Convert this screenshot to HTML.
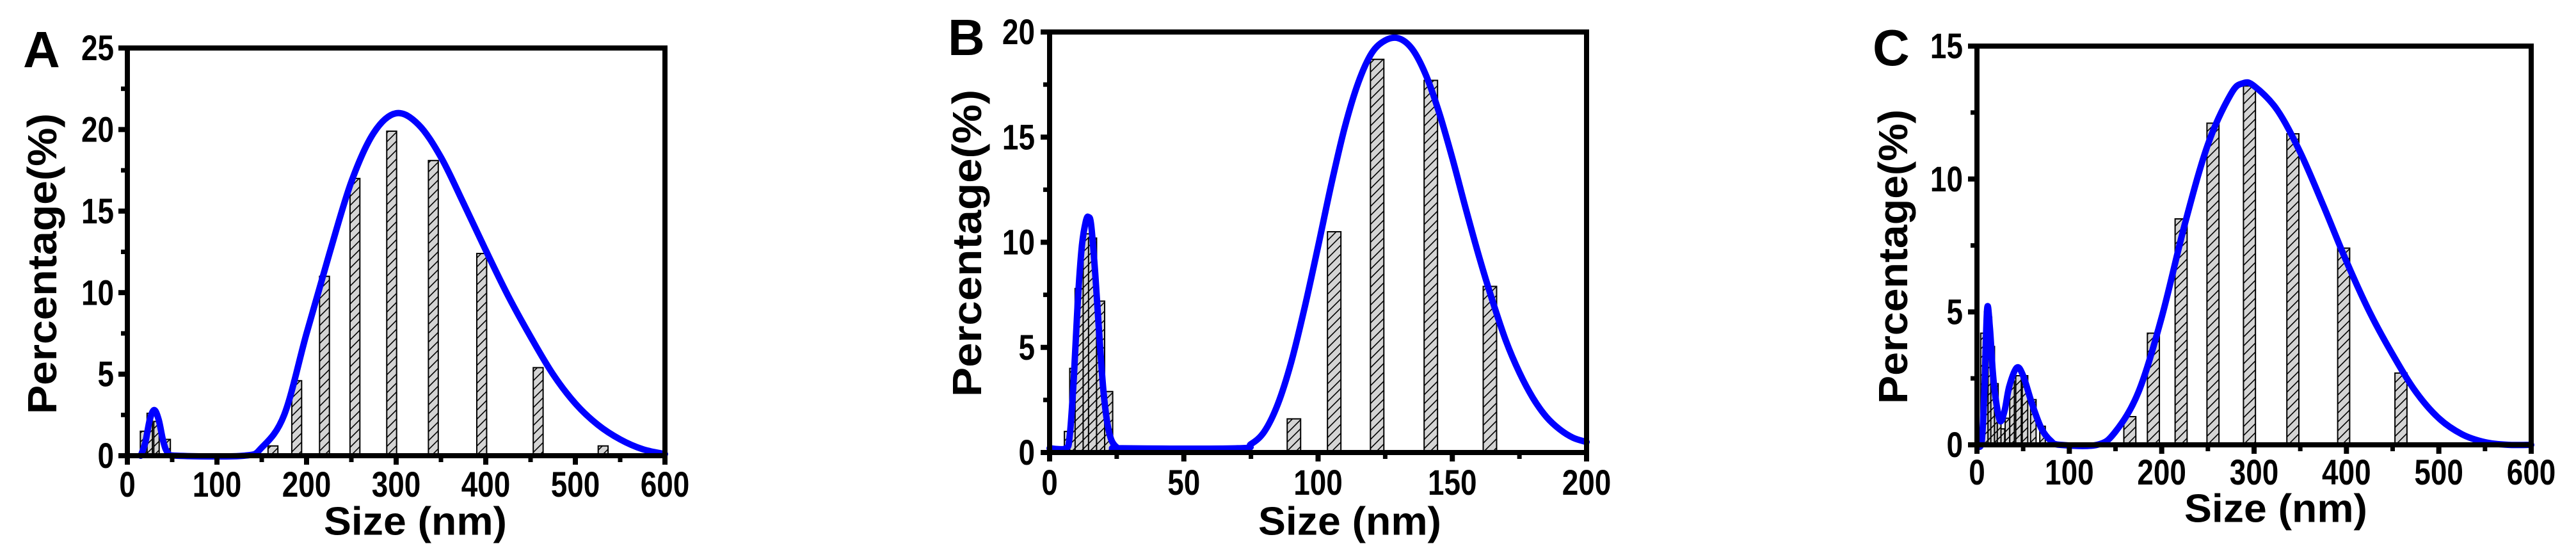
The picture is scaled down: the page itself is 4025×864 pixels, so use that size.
<!DOCTYPE html>
<html><head><meta charset="utf-8"><style>
html,body{margin:0;padding:0;background:#fff;}
svg{display:block;}
text{font-family:"Liberation Sans",Arial,sans-serif;font-weight:bold;fill:#000;}
</style></head><body>
<svg id="fig" width="4025" height="864" viewBox="0 0 4025 864" xmlns="http://www.w3.org/2000/svg">
<defs>
<pattern id="hatch" patternUnits="userSpaceOnUse" width="14" height="14">
<rect width="14" height="14" fill="#d4d4d4"/>
<path d="M-2,16 L16,-2 M-9,9 L9,-9 M5,23 L23,5" stroke="#000" stroke-width="1.6"/>
</pattern>
</defs>
</svg>
<script>
// Panel A data
const aBarX = [17.5, 25, 32.5, 45, 162.5, 189, 220, 254, 295, 341.5, 395.5, 458.5, 531];
const aBarY = [1.5, 2.6, 2.1, 1.0, 0.6, 4.6, 11.0, 17.0, 19.9, 18.1, 12.4, 5.4, 0.6];
const aBarW = [6, 6, 6, 6, 11, 11, 11, 11, 11, 11, 11, 11, 11];
const aCurveX = [15, 20, 25, 30, 35, 40, 45, 55, 130, 150, 175, 200, 225, 250, 275, 300, 325, 350, 375, 400, 425, 450, 475, 500, 525, 550, 575, 600];
const aCurveY = [0, 0.8, 2.2, 2.8, 2.2, 0.9, 0.2, 0, 0, 0.5, 2.5, 7.5, 12.3, 16.8, 19.8, 21.0, 20.3, 18.3, 15.5, 12.6, 9.8, 7.3, 5.0, 3.2, 1.9, 1.0, 0.4, 0.1];
const aXTicks = ["0", "100", "200", "300", "400", "500", "600"];
const aYTicks = ["0", "5", "10", "15", "20", "25"];

// Panel B data
const bBarX = [7, 9, 11, 14, 16, 19, 22, 91, 106, 122, 142, 164];
const bBarY = [1.0, 4.0, 7.8, 10.4, 10.2, 7.2, 2.9, 1.6, 10.5, 18.7, 17.7, 7.9];
const bBarW = [3, 3, 3, 3, 3, 3, 3, 5, 5, 5, 5, 5];
const bCurveX = [0, 6, 7.5, 9, 10.5, 12, 13.5, 14.5, 15.5, 17, 18.5, 20, 21.5, 23, 25, 27, 70, 75, 80, 85, 90, 95, 100, 105, 110, 115, 120, 125, 130, 135, 140, 145, 150, 155, 160, 165, 170, 175, 180, 185, 190, 195, 200];
const bCurveY = [0.2, 0.2, 0.8, 3.5, 7.2, 9.8, 11.0, 11.2, 10.8, 8.5, 5.6, 3.0, 1.4, 0.6, 0.25, 0.2, 0.2, 0.4, 1.0, 2.3, 4.3, 6.9, 9.8, 12.8, 15.5, 17.6, 19.0, 19.6, 19.7, 19.2, 18.0, 16.2, 14.0, 11.6, 9.3, 7.2, 5.3, 3.8, 2.6, 1.7, 1.1, 0.7, 0.5];
const bXTicks = ["0", "50", "100", "150", "200"];
const bYTicks = ["0", "5", "10", "15", "20"];

// Panel C data
const cBarX = [6, 10, 14, 17, 21, 24, 28, 33, 38, 45, 52, 61, 71, 165.5, 191, 221, 255.5, 295, 342, 397, 459];
const cBarY = [4.2, 5.0, 4.8, 3.7, 2.3, 1.1, 0.6, 1.0, 2.4, 2.6, 2.6, 1.7, 0.7, 1.06, 4.2, 8.5, 12.1, 13.5, 11.7, 7.4, 2.7];
const cBarW = [4, 4, 4, 4, 4, 4, 4, 5, 5, 6, 6, 6, 6, 13, 13, 13, 13, 13, 13, 13, 13];
const cCurveX = [0, 5, 8, 11, 14, 17, 20, 25, 30, 35, 43, 50, 60, 70, 80, 90, 130, 150, 175, 200, 225, 250, 275, 288, 300, 325, 350, 375, 400, 425, 450, 475, 500, 525, 550, 575, 600];
const cCurveY = [0, 0.1, 2.0, 5.1, 4.4, 2.8, 1.8, 0.9, 1.3, 2.2, 2.9, 2.6, 1.5, 0.6, 0.15, 0, 0, 0.5, 2.0, 4.8, 8.3, 11.3, 13.2, 13.6, 13.5, 12.6, 11.0, 9.0, 6.9, 5.0, 3.4, 2.0, 1.0, 0.4, 0.1, 0, 0];
const cXTicks = ["0", "100", "200", "300", "400", "500", "600"];
const cYTicks = ["0", "5", "10", "15"];

const NS = "http://www.w3.org/2000/svg";
const svg = document.getElementById("fig");
function mk(tag, attrs, parent) {
  const e = document.createElementNS(NS, tag);
  for (const k in attrs) e.setAttribute(k, attrs[k]);
  (parent || svg).appendChild(e);
  return e;
}
function smooth(pts) {
  let d = "M" + pts[0][0] + "," + pts[0][1];
  for (let i = 0; i < pts.length - 1; i++) {
    const p0 = pts[i - 1] || pts[i], p1 = pts[i], p2 = pts[i + 1], p3 = pts[i + 2] || p2;
    const c1x = p1[0] + (p2[0] - p0[0]) / 6, c1y = p1[1] + (p2[1] - p0[1]) / 6;
    const c2x = p2[0] - (p3[0] - p1[0]) / 6, c2y = p2[1] - (p3[1] - p1[1]) / 6;
    d += " C" + c1x + "," + c1y + " " + c2x + "," + c2y + " " + p2[0] + "," + p2[1];
  }
  return d;
}
function panel(cfg) {
  const g = mk("g", {});
  
  
  const L = cfg.left, R = cfg.right, T = cfg.top, B = cfg.bottom;
  const xs = v => L + (v - cfg.xmin) / (cfg.xmax - cfg.xmin) * (R - L);
  const ys = v => B - v / cfg.ymax * (B - T);
  for (let i = 0; i < cfg.bx.length; i++) {
    const w = xs(cfg.bx[i] + cfg.bw[i] / 2) - xs(cfg.bx[i] - cfg.bw[i] / 2);
    const r = mk("rect", {x: xs(cfg.bx[i]) - w / 2, y: ys(cfg.by[i]), width: w, height: B - ys(cfg.by[i]), fill: "url(#hatch)", stroke: "#000", "stroke-width": 2}, g);
    
    
  }
  const pts = cfg.cx.map((x, i) => [xs(x), ys(cfg.cy[i])]);
  const c = mk("path", {d: smooth(pts), fill: "none", stroke: "#0000ff", "stroke-width": 10, "stroke-linejoin": "round", "stroke-linecap": "round"}, g);
  
  
  const f = mk("rect", {x: L, y: T, width: R - L, height: B - T, fill: "none", stroke: "#000", "stroke-width": 8}, g);
  
  
  const nx = cfg.xt.length;
  for (let i = 0; i < nx; i++) {
    const v = +cfg.xt[i], x = xs(v);
    mk("line", {x1: x, y1: B, x2: x, y2: B + 14, stroke: "#000", "stroke-width": 8}, g);
    if (i < nx - 1) {
      const m = xs((v + +cfg.xt[i + 1]) / 2);
      mk("line", {x1: m, y1: B, x2: m, y2: B + 10, stroke: "#000", "stroke-width": 7}, g);
    }
    const t = mk("text", {x: x, y: cfg.xty, "font-size": 56, "text-anchor": "middle", "dominant-baseline": "central", transform: "translate(" + x + " 0) scale(0.82 1) translate(" + (-x) + " 0)"}, g);
    t.textContent = cfg.xt[i];
    
    
  }
  const ny = cfg.yt.length;
  for (let i = 0; i < ny; i++) {
    const v = +cfg.yt[i], y = ys(v);
    mk("line", {x1: L - 14, y1: y, x2: L, y2: y, stroke: "#000", "stroke-width": 8}, g);
    if (i < ny - 1) {
      const m = ys((v + +cfg.yt[i + 1]) / 2);
      mk("line", {x1: L - 10, y1: m, x2: L, y2: m, stroke: "#000", "stroke-width": 7}, g);
    }
    const t = mk("text", {x: cfg.ytx, y: y, "font-size": 56, "text-anchor": "end", "dominant-baseline": "central", transform: "translate(" + cfg.ytx + " 0) scale(0.82 1) translate(" + (-cfg.ytx) + " 0)"}, g);
    t.textContent = cfg.yt[i];
    
    
  }
  const yt = mk("text", {x: 0, y: 0, "font-size": 64, "text-anchor": "middle", "dominant-baseline": "central", textLength: cfg.ylen, lengthAdjust: "spacingAndGlyphs", transform: "translate(" + cfg.ylx + " " + cfg.yly + ") rotate(-90)"}, g);
  yt.textContent = "Percentage(%)";
  
  
  const xt = mk("text", {x: cfg.xlx, y: cfg.xly, "font-size": 62, "text-anchor": "middle", "dominant-baseline": "central", textLength: 286, lengthAdjust: "spacingAndGlyphs"}, g);
  xt.textContent = "Size (nm)";
  
  
  const lt = mk("text", {x: cfg.lx, y: cfg.ly, "font-size": 80}, g);
  lt.textContent = cfg.letter;
  
  
}
panel({id: "panel-a", letter: "A", left: 199, right: 1039, top: 75, bottom: 712, xmin: 0, xmax: 600, ymax: 25,
  bx: aBarX, by: aBarY, bw: aBarW, cx: aCurveX, cy: aCurveY, xt: aXTicks, yt: aYTicks,
  xty: 757, ytx: 178, ylx: 66, yly: 412, ylen: 470, xlx: 649, xly: 815, lx: 36, ly: 105});
panel({id: "panel-b", letter: "B", left: 1640, right: 2479, top: 50, bottom: 707, xmin: 0, xmax: 200, ymax: 20,
  bx: bBarX, by: bBarY, bw: bBarW, cx: bCurveX, cy: bCurveY, xt: bXTicks, yt: bYTicks,
  xty: 754, ytx: 1617, ylx: 1511, yly: 380, ylen: 480, xlx: 2109, xly: 815, lx: 1481, ly: 86});
panel({id: "panel-c", letter: "C", left: 3089, right: 3955, top: 72, bottom: 695, xmin: 0, xmax: 600, ymax: 15,
  bx: cBarX, by: cBarY, bw: cBarW, cx: cCurveX, cy: cCurveY, xt: cXTicks, yt: cYTicks,
  xty: 738, ytx: 3067, ylx: 2958, yly: 401, ylen: 460, xlx: 3556, xly: 795, lx: 2926, ly: 102});
</script>
</body></html>
